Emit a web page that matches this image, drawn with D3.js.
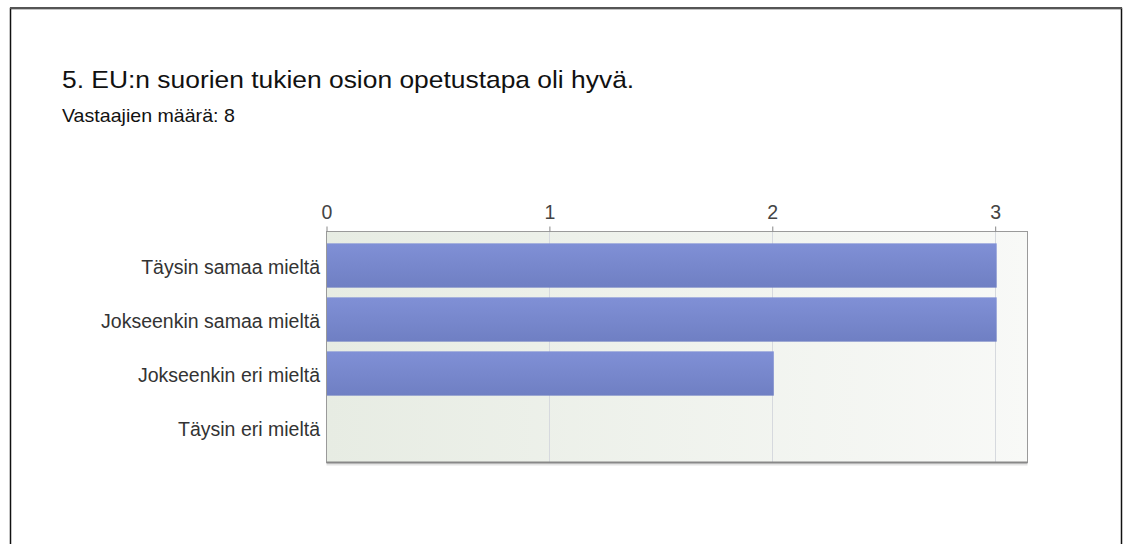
<!DOCTYPE html>
<html>
<head>
<meta charset="utf-8">
<script src="https://cdn.jsdelivr.net/npm/d3@7"></script>
<style>
  body { margin: 0; background: #fff; }
  svg { display: block; font-family: Arial, "Liberation Sans", sans-serif; }
</style>
</head>
<body>
<div id="plot"></div>
<script>
// chart data
const title = "5. EU:n suorien tukien osion opetustapa oli hyvä.";
const subtitle = "Vastaajien määrä: 8";
const categories = ["Täysin samaa mieltä", "Jokseenkin samaa mieltä", "Jokseenkin eri mieltä", "Täysin eri mieltä"];
const counts = [3, 3, 2, 0];
const tickValues = [0, 1, 2, 3];

const W = 1124, H = 544;
const svg = d3.select("#plot").append("svg")
    .attr("width", W)
    .attr("height", H);

// outer frame
svg.append("rect")
    .attr("x", 10.5).attr("y", 8.5)
    .attr("width", 1111).attr("height", 560)
    .attr("fill", "#fff")
    .attr("stroke", "#111").attr("stroke-width", 1.5);
svg.append("line")
    .attr("x1", 10).attr("x2", 1122)
    .attr("y1", 8).attr("y2", 8)
    .attr("stroke", "#555").attr("stroke-width", 2);

// title (slightly wide, as in the original)
svg.append("text")
    .attr("transform", "translate(62,88) scale(1.1,1)")
    .attr("font-size", 24)
    .attr("fill", "#111")
    .text(title);

svg.append("text")
    .attr("transform", "translate(62,122) scale(1.06,1)")
    .attr("font-size", 18.5)
    .attr("fill", "#111")
    .text(subtitle);

// plot area
const plot = {left: 326.5, right: 1027.5, top: 231.5, bottom: 462.5};

const x = d3.scaleLinear()
    .domain([0, 3.145])
    .range([plot.left, plot.right]);

const y = d3.scaleBand()
    .domain(categories)
    .range([238.5, 454.5])
    .paddingInner(0.18)
    .paddingOuter(0.09);

const defs = svg.append("defs");
const bg = defs.append("linearGradient").attr("id", "bgGrad")
    .attr("x1", "0").attr("x2", "1").attr("y1", "0").attr("y2", "0");
bg.append("stop").attr("offset", "0%").attr("stop-color", "#e7ece3");
bg.append("stop").attr("offset", "100%").attr("stop-color", "#f8f9f7");

const barGrad = defs.append("linearGradient").attr("id", "barGrad")
    .attr("x1", "0").attr("x2", "0").attr("y1", "0").attr("y2", "1");
barGrad.append("stop").attr("offset", "0%").attr("stop-color", "#8090d6");
barGrad.append("stop").attr("offset", "100%").attr("stop-color", "#6f7fc3");

// bottom shadow
svg.append("rect")
    .attr("x", plot.left).attr("y", plot.bottom)
    .attr("width", plot.right - plot.left).attr("height", 3)
    .attr("fill", "#e4e4e4");

svg.append("rect")
    .attr("x", plot.left).attr("y", plot.top)
    .attr("width", plot.right - plot.left)
    .attr("height", plot.bottom - plot.top)
    .attr("fill", "url(#bgGrad)");

// grid lines
svg.append("g")
    .selectAll("line")
    .data(tickValues.slice(1))
    .enter()
    .append("line")
    .attr("x1", d => Math.round(x(d)) + 0.5)
    .attr("x2", d => Math.round(x(d)) + 0.5)
    .attr("y1", plot.top)
    .attr("y2", plot.bottom)
    .attr("stroke", "#d6d9de");

// bars
svg.append("g")
    .selectAll("rect")
    .data(counts)
    .enter()
    .append("rect")
    .attr("x", x(0))
    .attr("y", (d, i) => y(categories[i]))
    .attr("width", d => d > 0 ? x(d) - x(0) + 1.5 : 0)
    .attr("height", y.bandwidth())
    .attr("fill", "url(#barGrad)");

// plot border
svg.append("rect")
    .attr("x", plot.left).attr("y", plot.top)
    .attr("width", plot.right - plot.left)
    .attr("height", plot.bottom - plot.top)
    .attr("fill", "none")
    .attr("stroke", "#9a9a9a");
svg.append("line")
    .attr("x1", plot.left).attr("x2", plot.right)
    .attr("y1", plot.bottom).attr("y2", plot.bottom)
    .attr("stroke", "#888").attr("stroke-width", 2);

// top axis
const xAxis = svg.append("g")
    .attr("transform", "translate(0," + plot.top + ")")
    .call(d3.axisTop(x).tickValues(tickValues).tickSize(5).tickPadding(8).tickFormat(d3.format("d")));
xAxis.select(".domain").remove();
xAxis.selectAll(".tick line").attr("stroke", "#888");
xAxis.selectAll(".tick text")
    .attr("font-size", 19.5)
    .attr("fill", "#444")
    .attr("font-family", "Arial, 'Liberation Sans', sans-serif");

// category labels
svg.append("g")
    .selectAll("text")
    .data(categories)
    .enter()
    .append("text")
    .attr("x", 320)
    .attr("y", d => y(d) + y.bandwidth() / 2)
    .attr("dy", "0.45em")
    .attr("text-anchor", "end")
    .attr("font-size", 19.5)
    .attr("fill", "#333")
    .text(d => d);
</script>
</body>
</html>
